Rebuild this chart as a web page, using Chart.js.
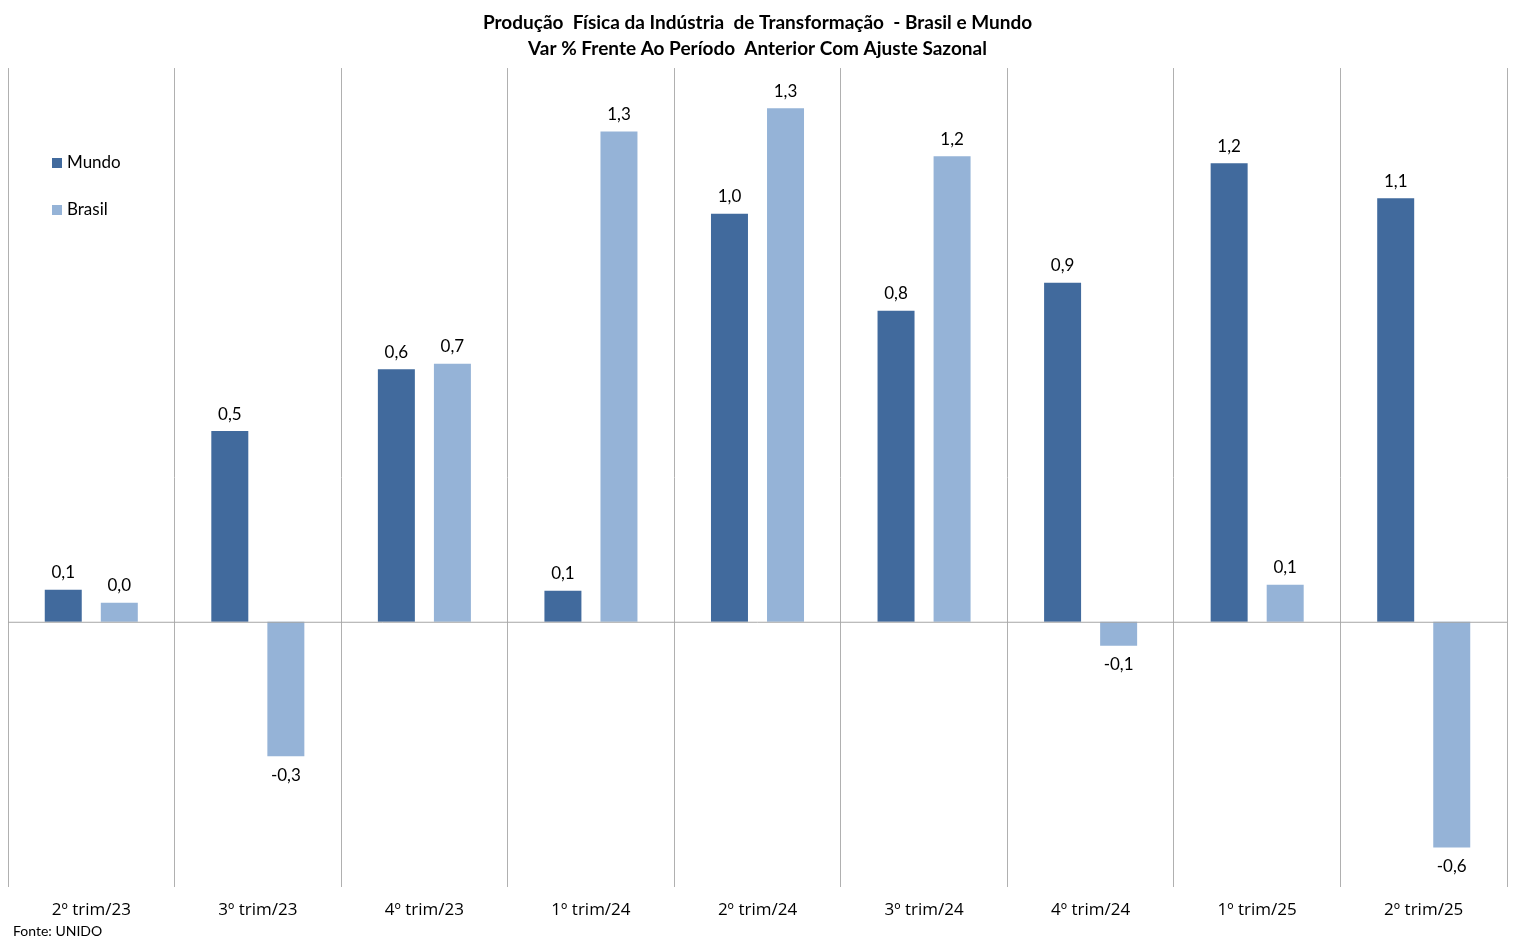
<!DOCTYPE html>
<html>
<head>
<meta charset="utf-8">
<script src="https://cdn.jsdelivr.net/npm/chart.js@4.4.0/dist/chart.umd.min.js"></script>
<style>
  html, body { margin: 0; padding: 0; background: #fff; }
  #wrap { width: 1519px; height: 947px; }
</style>
</head>
<body>
<div id="wrap"><canvas id="chart"></canvas></div>
<script>
const categories = ['2º trim/23', '3º trim/23', '4º trim/23', '1º trim/24', '2º trim/24', '3º trim/24', '4º trim/24', '1º trim/25', '2º trim/25'];
const mundoValues = [0.084, 0.499, 0.661, 0.081, 1.068, 0.814, 0.887, 1.2, 1.108];
const brasilValues = [0.05, -0.352, 0.675, 1.283, 1.344, 1.218, -0.063, 0.097, -0.591];
const mundoLabels = ['0,1', '0,5', '0,6', '0,1', '1,0', '0,8', '0,9', '1,2', '1,1'];
const brasilLabels = ['0,0', '-0,3', '0,7', '1,3', '1,3', '1,2', '-0,1', '0,1', '-0,6'];
const titleLines = ['Produção  Física da Indústria  de Transformação  - Brasil e Mundo', 'Var % Frente Ao Período  Anterior Com Ajuste Sazonal'];

const FONT = 'Lato, "Open Sans", sans-serif';
const MUNDO_COLOR = '#416a9d';
const BRASIL_COLOR = '#95b3d7';

// labels, zero line, legend and source
const extras = {
  id: 'extras',
  afterDatasetsDraw(chart) {
    const { ctx, chartArea, scales } = chart;
    const y0 = scales.y.getPixelForValue(0);
    ctx.save();
    ctx.strokeStyle = '#a6a6a6';
    ctx.lineWidth = 1;
    ctx.beginPath();
    ctx.moveTo(chartArea.left, y0 + 0.5);
    ctx.lineTo(chartArea.right, y0 + 0.5);
    ctx.stroke();

    ctx.font = '17px ' + FONT;
    ctx.fillStyle = '#000';
    ctx.textAlign = 'center';
    ctx.textBaseline = 'middle';
    const lbls = [mundoLabels, brasilLabels];
    chart.data.datasets.forEach((ds, i) => {
      chart.getDatasetMeta(i).data.forEach((bar, j) => {
        const v = ds.data[j];
        const yy = v >= 0 ? bar.y - 17 : bar.y + 19;
        ctx.fillText(lbls[i][j], bar.x, yy);
      });
    });

    // legend
    ctx.textAlign = 'left';
    chart.data.datasets.forEach((ds, i) => {
      const cy = 163 + i * 47;
      ctx.fillStyle = ds.backgroundColor;
      ctx.fillRect(52, cy - 5, 10, 10);
      ctx.fillStyle = '#000';
      ctx.fillText(ds.label, 67, cy);
    });

    ctx.font = '14px ' + FONT;
    ctx.fillText('Fonte: UNIDO', 13, 931);
    ctx.restore();
  }
};

new Chart(document.getElementById('chart'), {
  type: 'bar',
  data: {
    labels: categories,
    datasets: [
      { label: 'Mundo', data: mundoValues, backgroundColor: MUNDO_COLOR },
      { label: 'Brasil', data: brasilValues, backgroundColor: BRASIL_COLOR }
    ]
  },
  options: {
    responsive: true,
    maintainAspectRatio: false,
    animation: false,
    categoryPercentage: 0.673,
    barPercentage: 0.66,
    layout: { padding: { left: 8, right: 12, top: 0, bottom: 14 } },
    plugins: {
      legend: { display: false },
      tooltip: { enabled: false },
      title: {
        display: true,
        text: titleLines,
        color: '#000',
        font: { family: FONT, size: 19, weight: 'bold', lineHeight: 1.37 },
        padding: { top: 10, bottom: 6 }
      }
    },
    scales: {
      y: { display: false, min: -0.693, max: 1.449 },
      x: {
        grid: { color: '#b0b0b0', drawTicks: false, offset: true },
        border: { display: false },
        ticks: { color: '#000', padding: 13, font: { family: '"Open Sans", sans-serif', size: 17 } }
      }
    }
  },
  plugins: [extras]
});
</script>
</body>
</html>
